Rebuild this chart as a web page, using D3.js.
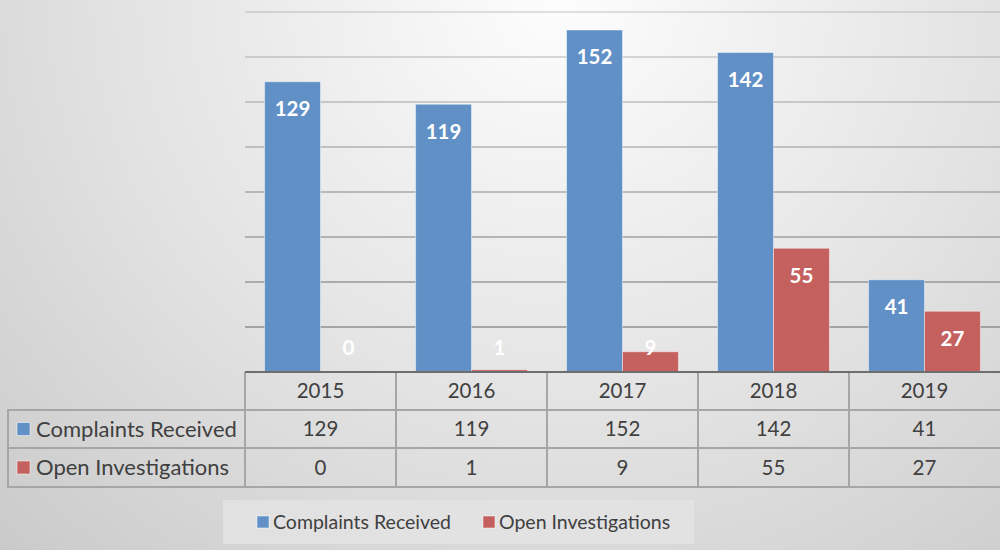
<!DOCTYPE html>
<html><head><meta charset="utf-8">
<script src="https://cdn.jsdelivr.net/npm/d3@7"></script>
<style>html,body{margin:0;padding:0;overflow:hidden}svg{display:block}</style>
</head><body>
<svg id="chart" width="1000" height="550"></svg>
<script>
const years = ["2015","2016","2017","2018","2019"];
const seriesNames = ["Complaints Received","Open Investigations"];
const complaints = [129,119,152,142,41];
const investigations = [0,1,9,55,27];
const yTicks = [0,20,40,60,80,100,120,140,160];
const colors = ["#6190c6","#c4605e"];

const svg = d3.select("#chart");
const W = 1000, H = 550;
const font = "Lato, 'Open Sans', sans-serif";

const defs = svg.append("defs");
const rg = defs.append("radialGradient").attr("id","bg")
  .attr("gradientUnits","userSpaceOnUse").attr("cx",560).attr("cy",0).attr("r",820)
  .attr("gradientTransform","translate(560,0) scale(1,0.95) translate(-560,0)");
rg.append("stop").attr("offset","0%").attr("stop-color","#fdfdfd");
rg.append("stop").attr("offset","55%").attr("stop-color","#e2e2e2");
rg.append("stop").attr("offset","100%").attr("stop-color","#c9c9c9");
svg.append("rect").attr("width",W).attr("height",H).attr("fill","url(#bg)");

const x0 = d3.scaleBand().domain(years).range([245,1000]);
const x1 = d3.scaleBand().domain(seriesNames).range([0,x0.bandwidth()]).paddingOuter(0.35);
const y = d3.scaleLinear().domain([0,160]).range([372,12]);

// gridlines
svg.append("g").selectAll("line").data(yTicks.filter(d=>d>0)).join("line")
  .attr("x1",245).attr("x2",1000).attr("y1",d=>y(d)).attr("y2",d=>y(d))
  .attr("stroke","#888").attr("stroke-opacity",d=>0.75 - d/160*0.5).attr("stroke-width",2);

const series = [complaints, investigations];
const data = [];
years.forEach((yr,i)=>series.forEach((s,j)=>data.push({yr, name:seriesNames[j], v:s[i], c:colors[j]})));

const bars = svg.append("g");
bars.selectAll("rect").data(data).join("rect")
  .attr("x",d=>x0(d.yr)+x1(d.name)).attr("width",x1.bandwidth())
  .attr("y",d=>y(d.v)).attr("height",d=>y(0)-y(d.v))
  .attr("fill",d=>d.c).attr("stroke","rgba(255,255,255,0.45)").attr("stroke-width",1);

bars.selectAll("text").data(data).join("text")
  .attr("x",d=>x0(d.yr)+x1(d.name)+x1.bandwidth()/2)
  .attr("y",d=>Math.min(y(d.v)+27, y(0)-24))
  .attr("dy","0.36em").attr("text-anchor","middle")
  .attr("font-family",font).attr("font-weight","bold").attr("font-size",20.5)
  .attr("fill","#fff").text(d=>d.v);

// data table
const rowY = [372,410,448,487];
const tbl = svg.append("g");
const lineC = "#a6a6a6";
[410,448,487].forEach(yy=>{
  tbl.append("line").attr("x1",8).attr("x2",1000).attr("y1",yy).attr("y2",yy).attr("stroke",lineC).attr("stroke-width",2);
});
tbl.append("line").attr("x1",8).attr("x2",8).attr("y1",409).attr("y2",488).attr("stroke",lineC).attr("stroke-width",2);
tbl.selectAll(".v").data(years).join("line")
  .attr("x1",d=>x0(d)).attr("x2",d=>x0(d)).attr("y1",372).attr("y2",488)
  .attr("stroke",lineC).attr("stroke-width",2);
// baseline
svg.append("line").attr("x1",245).attr("x2",1000).attr("y1",y(0)).attr("y2",y(0)).attr("stroke","#6e6e6e").attr("stroke-width",2);

// header
tbl.selectAll(".hdr").data(years).join("text")
  .attr("x",d=>x0(d)+x0.bandwidth()/2).attr("y",(rowY[0]+rowY[1])/2).attr("dy","0.36em")
  .attr("text-anchor","middle").attr("font-family",font).attr("font-size",20.5).attr("fill","#404040").text(d=>d);
series.forEach((s,j)=>{
  const cy = (rowY[j+1]+rowY[j+2])/2;
  tbl.append("rect").attr("x",17).attr("y",cy-6.5).attr("width",13).attr("height",13)
    .attr("fill",colors[j]).attr("stroke","rgba(255,255,255,0.5)");
  tbl.append("text").attr("x",36).attr("y",cy).attr("dy","0.36em")
    .attr("font-family",font).attr("font-size",22).attr("fill","#404040").text(seriesNames[j]);
  tbl.selectAll(null).data(s).join("text")
    .attr("x",(d,i)=>x0(years[i])+x0.bandwidth()/2).attr("y",cy).attr("dy","0.36em")
    .attr("text-anchor","middle").attr("font-family",font).attr("font-size",20.5).attr("fill","#404040").text(d=>d);
});

// legend
const lg = svg.append("g");
lg.append("rect").attr("x",223).attr("y",500).attr("width",471).attr("height",44).attr("fill","#e3e3e3").attr("fill-opacity",0.85);
const lx = [257,483];
seriesNames.forEach((n,j)=>{
  lg.append("rect").attr("x",lx[j]).attr("y",516).attr("width",12).attr("height",12)
    .attr("fill",colors[j]).attr("stroke","rgba(255,255,255,0.5)");
  lg.append("text").attr("x",lx[j]+16).attr("y",522).attr("dy","0.36em")
    .attr("font-family",font).attr("font-size",19.5).attr("fill","#404040").text(n);
});
</script>
</body></html>
